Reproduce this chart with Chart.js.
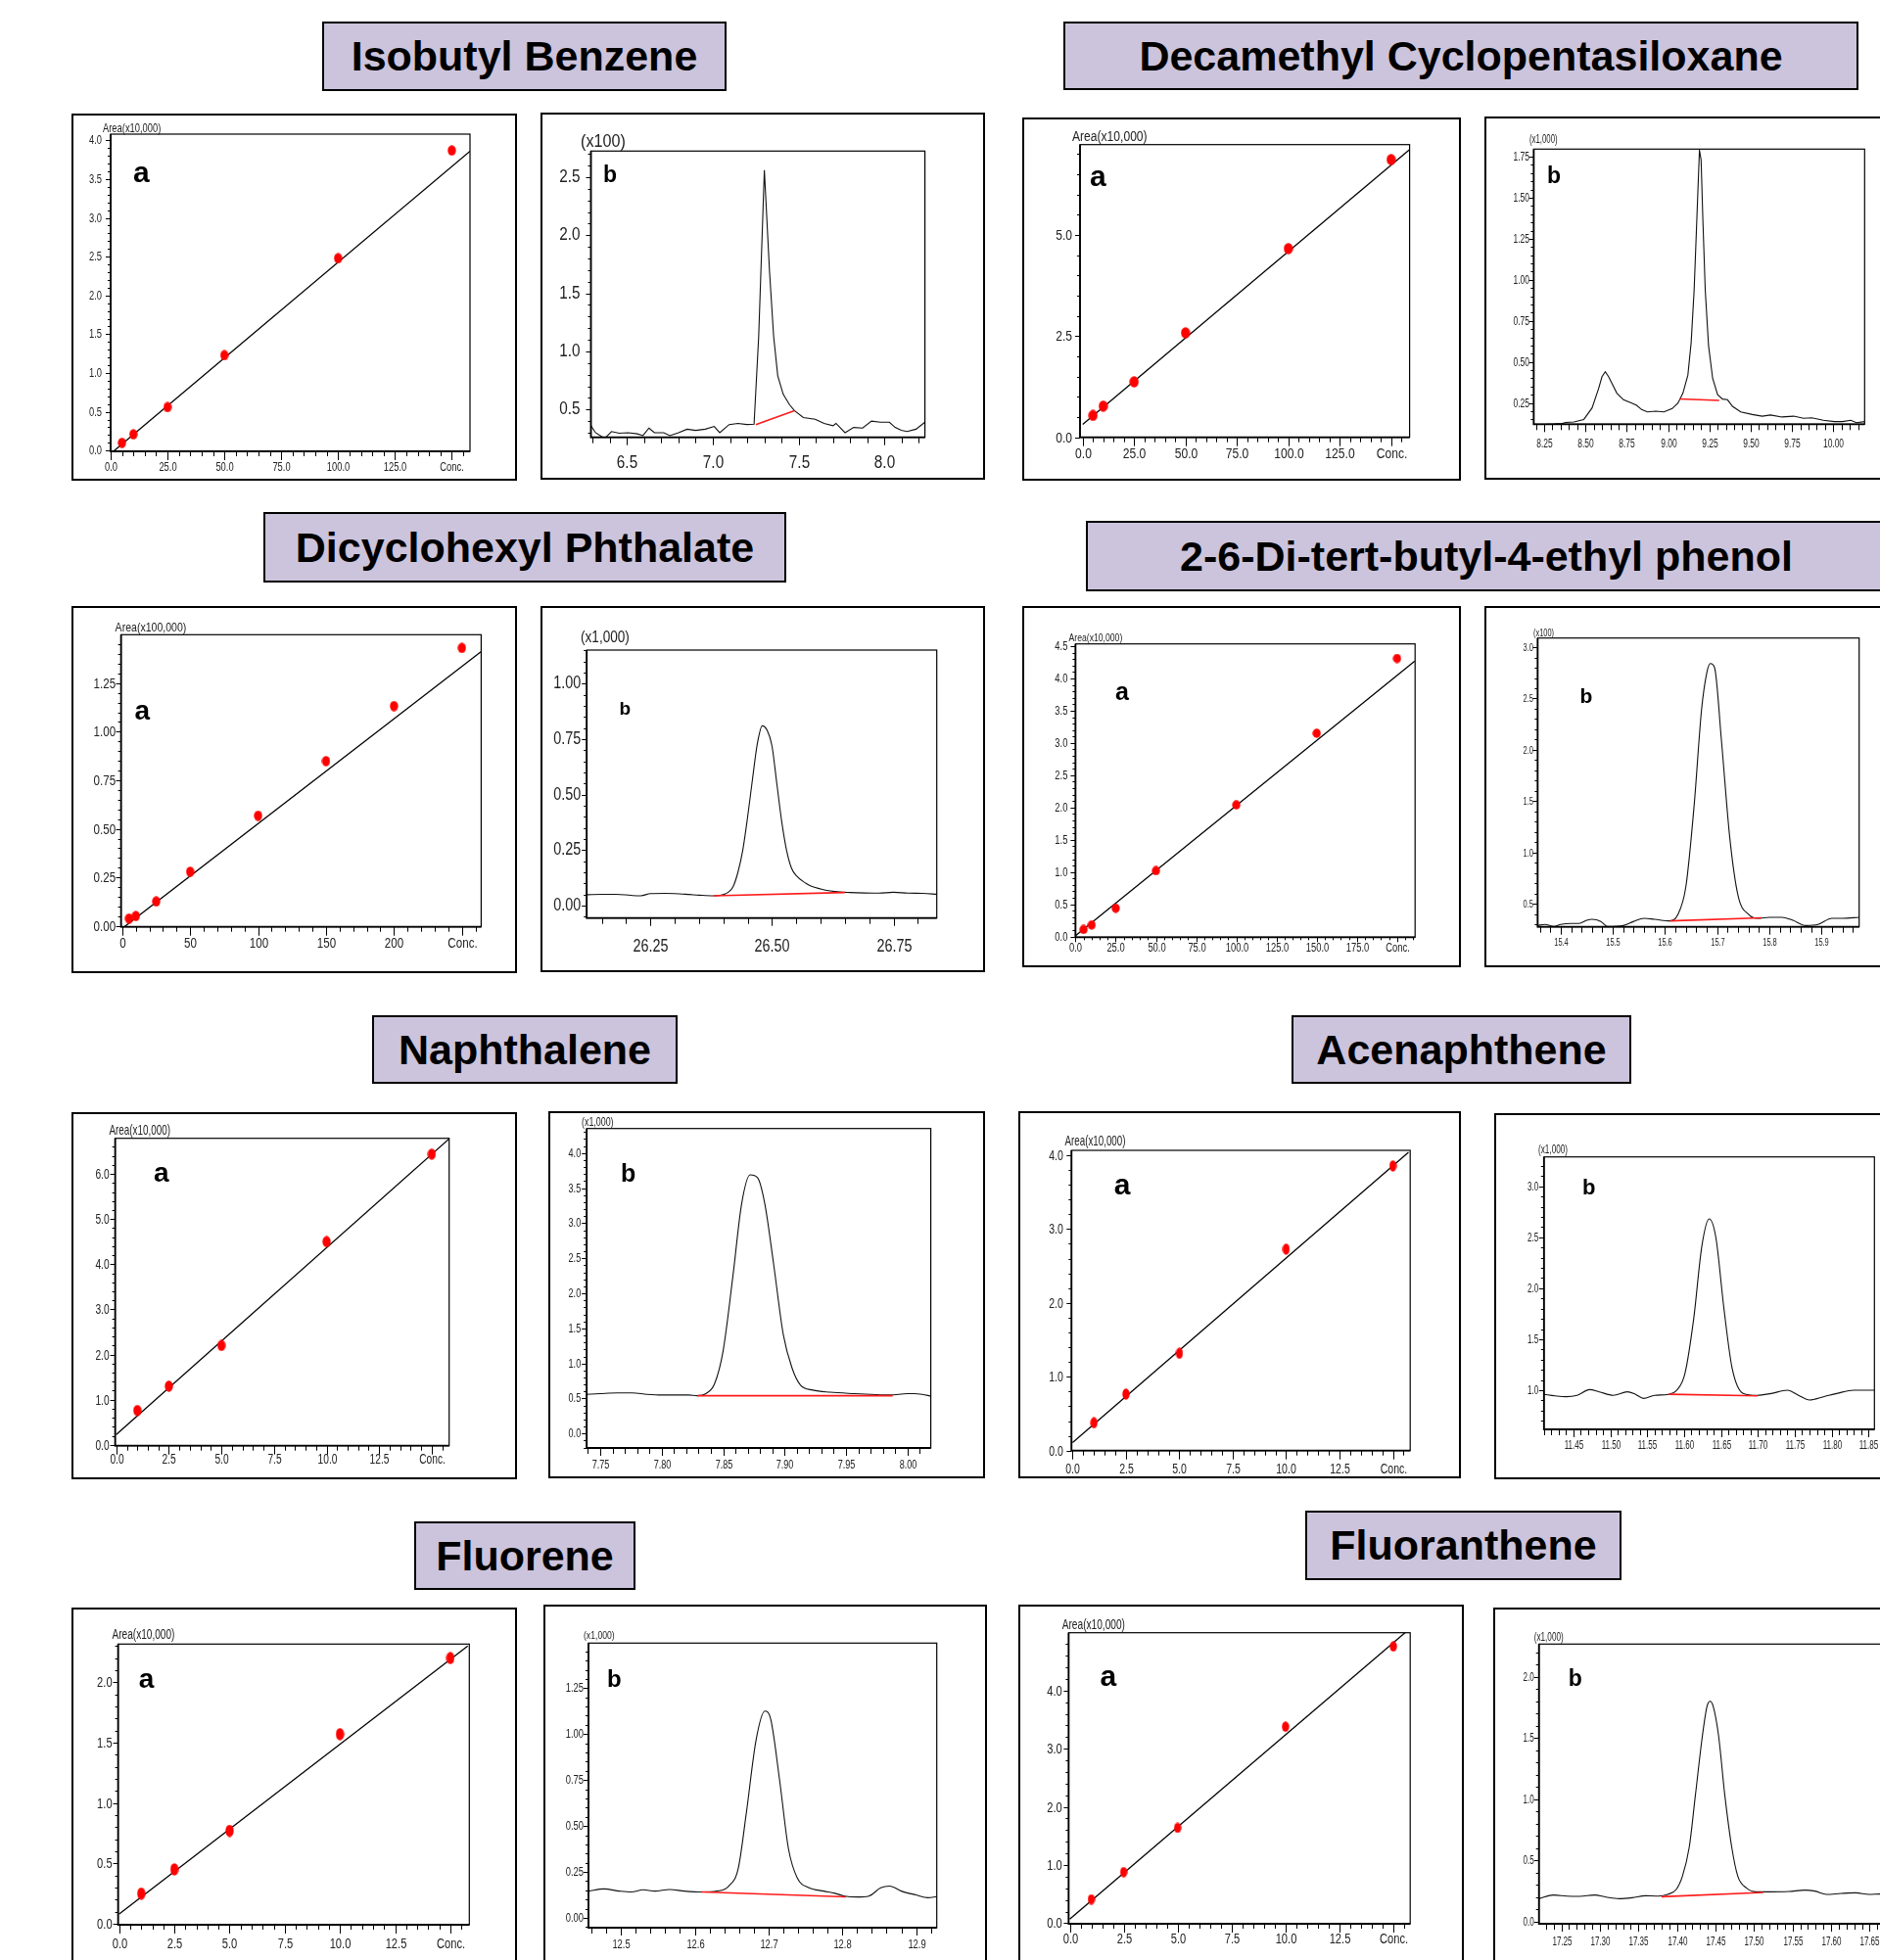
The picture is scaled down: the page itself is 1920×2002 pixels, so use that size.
<!DOCTYPE html>
<html>
<head>
<meta charset="utf-8">
<script src="https://cdn.jsdelivr.net/npm/chart.js@4.4.1/dist/chart.umd.min.js"></script>
<style>
  html, body { margin: 0; padding: 0; background: #fff; }
  #page { position: relative; width: 1920px; height: 2002px; overflow: hidden; background: #fff; }
  .title { position: absolute; box-sizing: border-box; border: 2px solid #000; background: #ccc4dc;
           display: flex; align-items: center; justify-content: center; white-space: nowrap;
           font: bold 43px 'Liberation Sans', Arial, sans-serif; color: #000; }
  .frame { position: absolute; box-sizing: border-box; border: 2px solid #000; background: #fff; }
  .frame canvas { position: absolute; left: 0; top: 0; }
</style>
</head>
<body>
<div id="page"></div>
<script>
// ---- data ----
const compoundNames = ['Isobutyl Benzene', 'Decamethyl Cyclopentasiloxane', 'Dicyclohexyl Phthalate',
  '2-6-Di-tert-butyl-4-ethyl phenol', 'Naphthalene', 'Acenaphthene', 'Fluorene', 'Fluoranthene'];

// Isobutyl Benzene
const ibConc = [5, 10, 25, 50, 100, 150];
const ibArea = [0.10, 0.21, 0.56, 1.23, 2.48, 3.87];
const ibFitConc = [0, 158];
const ibFitArea = [-0.04, 3.86];
const ibTime = [6.29, 6.317, 6.37, 6.41, 6.455, 6.507, 6.56, 6.593, 6.628, 6.66, 6.714, 6.75, 6.80, 6.85, 6.90, 6.956, 7.008, 7.04, 7.095, 7.146, 7.198, 7.24, 7.267, 7.30, 7.33, 7.354, 7.378, 7.41, 7.447, 7.475, 7.527, 7.596, 7.648, 7.70, 7.717, 7.77, 7.82, 7.872, 7.924, 7.976, 8.028, 8.062, 8.097, 8.131, 8.183, 8.235];
const ibSignal = [0.36, 0.30, 0.25, 0.31, 0.295, 0.30, 0.29, 0.275, 0.34, 0.30, 0.30, 0.275, 0.30, 0.33, 0.32, 0.33, 0.354, 0.30, 0.37, 0.38, 0.37, 0.374, 1.13, 2.56, 1.69, 1.13, 0.79, 0.63, 0.54, 0.49, 0.43, 0.416, 0.38, 0.36, 0.38, 0.30, 0.345, 0.34, 0.40, 0.39, 0.39, 0.345, 0.32, 0.31, 0.33, 0.39];
const ibBaseTime = [7.25, 7.475];
const ibBaseSignal = [0.37, 0.49];

// Decamethyl Cyclopentasiloxane
const dmConc = [5, 10, 25, 50, 100, 150];
const dmArea = [0.54, 0.77, 1.37, 2.58, 4.66, 6.86];
const dmFitConc = [0, 159];
const dmFitArea = [0.32, 7.11];
const dmTime = [8.19, 8.25, 8.31, 8.36, 8.38, 8.43, 8.49, 8.54, 8.58, 8.60, 8.62, 8.64, 8.66, 8.69, 8.73, 8.78, 8.81, 8.84, 8.875, 8.925, 8.975, 9.025, 9.06, 9.09, 9.12, 9.14, 9.158, 9.175, 9.19, 9.20, 9.21, 9.225, 9.245, 9.27, 9.30, 9.33, 9.36, 9.39, 9.44, 9.51, 9.57, 9.62, 9.69, 9.76, 9.82, 9.87, 9.94, 10.006, 10.056, 10.106, 10.14, 10.19];
const dmSignal = [0.12, 0.12, 0.122, 0.125, 0.132, 0.135, 0.15, 0.22, 0.34, 0.41, 0.44, 0.41, 0.37, 0.31, 0.27, 0.25, 0.236, 0.21, 0.196, 0.20, 0.196, 0.216, 0.25, 0.31, 0.42, 0.62, 0.94, 1.39, 1.79, 1.73, 1.39, 0.94, 0.60, 0.40, 0.30, 0.274, 0.27, 0.23, 0.196, 0.18, 0.17, 0.177, 0.165, 0.17, 0.157, 0.16, 0.145, 0.137, 0.137, 0.145, 0.13, 0.137];
const dmBaseTime = [9.07, 9.31];
const dmBaseSignal = [0.275, 0.266];

// Dicyclohexyl Phthalate
const dcConc = [5, 10, 25, 50, 100, 150, 200, 250];
const dcArea = [0.039, 0.052, 0.127, 0.28, 0.568, 0.849, 1.132, 1.431];
const dcFitConc = [0, 264];
const dcFitArea = [-0.012, 1.411];
const dcTime = [26.12, 26.15, 26.18, 26.21, 26.23, 26.25, 26.28, 26.30, 26.33, 26.35, 26.38, 26.40, 26.41, 26.42, 26.43, 26.44, 26.45, 26.46, 26.47, 26.48, 26.49, 26.50, 26.51, 26.52, 26.53, 26.54, 26.55, 26.57, 26.58, 26.60, 26.62, 26.64, 26.66, 26.69, 26.72, 26.75, 26.78, 26.81, 26.84];
const dcSignal = [0.049, 0.051, 0.051, 0.046, 0.044, 0.054, 0.055, 0.054, 0.050, 0.047, 0.044, 0.050, 0.060, 0.085, 0.15, 0.25, 0.40, 0.57, 0.73, 0.81, 0.79, 0.72, 0.55, 0.38, 0.25, 0.17, 0.135, 0.10, 0.088, 0.075, 0.066, 0.061, 0.059, 0.057, 0.056, 0.060, 0.056, 0.055, 0.051];
const dcBaseTime = [26.38, 26.65];
const dcBaseSignal = [0.044, 0.059];

// 2-6-Di-tert-butyl-4-ethyl phenol
const tbConc = [5, 10, 25, 50, 100, 150, 200];
const tbArea = [0.11, 0.18, 0.44, 1.02, 2.04, 3.15, 4.31];
const tbFitConc = [0, 211];
const tbFitArea = [0.015, 4.27];
const tbTime = [15.356, 15.37, 15.387, 15.40, 15.42, 15.435, 15.45, 15.46, 15.477, 15.49, 15.52, 15.54, 15.56, 15.58, 15.61, 15.624, 15.64, 15.656, 15.67, 15.68, 15.687, 15.695, 15.708, 15.724, 15.74, 15.761, 15.777, 15.80, 15.824, 15.845, 15.87, 15.893, 15.92, 15.94, 15.972];
const tbSignal = [0.29, 0.30, 0.28, 0.30, 0.31, 0.31, 0.34, 0.35, 0.33, 0.28, 0.29, 0.33, 0.36, 0.35, 0.335, 0.39, 0.67, 1.47, 2.39, 2.75, 2.84, 2.80, 2.10, 1.15, 0.58, 0.395, 0.36, 0.37, 0.37, 0.34, 0.29, 0.30, 0.36, 0.36, 0.37];
const tbBaseTime = [15.61, 15.785];
const tbBaseSignal = [0.335, 0.365];

// Naphthalene
const npConc = [1, 2.5, 5, 10, 15];
const npArea = [0.76, 1.30, 2.20, 4.50, 6.44];
const npFitConc = [0, 15.83];
const npFitArea = [0.23, 6.78];
const npTime = [7.739, 7.75, 7.764, 7.776, 7.788, 7.80, 7.812, 7.822, 7.829, 7.836, 7.843, 7.85, 7.858, 7.865, 7.872, 7.878, 7.884, 7.891, 7.899, 7.906, 7.913, 7.923, 7.937, 7.957, 7.97, 7.986, 8.0, 8.005, 8.012, 8.019];
const npSignal = [0.56, 0.57, 0.58, 0.58, 0.56, 0.55, 0.55, 0.55, 0.54, 0.57, 0.71, 1.18, 2.25, 3.27, 3.69, 3.65, 3.27, 2.43, 1.41, 0.94, 0.69, 0.62, 0.59, 0.57, 0.56, 0.55, 0.57, 0.57, 0.56, 0.535];
const npBaseTime = [7.829, 7.988];
const npBaseSignal = [0.54, 0.54];

// Acenaphthene
const acConc = [1, 2.5, 5, 10, 15];
const acArea = [0.377, 0.765, 1.318, 2.728, 3.855];
const acFitConc = [0, 15.73];
const acFitArea = [0.11, 4.04];
const acTime = [11.41, 11.425, 11.44, 11.455, 11.472, 11.485, 11.504, 11.523, 11.534, 11.545, 11.56, 11.579, 11.59, 11.601, 11.613, 11.624, 11.634, 11.643, 11.654, 11.665, 11.68, 11.699, 11.718, 11.74, 11.755, 11.77, 11.789, 11.807, 11.83, 11.858];
const acSignal = [0.96, 0.945, 0.936, 0.95, 1.006, 0.984, 0.95, 0.984, 0.96, 0.92, 0.95, 0.96, 1.0, 1.16, 1.70, 2.41, 2.68, 2.50, 1.80, 1.22, 0.97, 0.95, 0.968, 1.0, 0.95, 0.904, 0.936, 0.968, 1.0, 1.0];
const acBaseTime = [11.579, 11.70];
const acBaseSignal = [0.96, 0.945];

// Fluorene
const flConc = [1, 2.5, 5, 10, 15];
const flArea = [0.25, 0.45, 0.77, 1.57, 2.20];
const flFitConc = [0, 15.79];
const flFitArea = [0.081, 2.30];
const flTime = [12.456, 12.477, 12.498, 12.514, 12.53, 12.546, 12.566, 12.586, 12.61, 12.63, 12.646, 12.659, 12.67, 12.683, 12.695, 12.703, 12.715, 12.727, 12.739, 12.755, 12.775, 12.79, 12.803, 12.82, 12.836, 12.852, 12.864, 12.88, 12.9, 12.916, 12.928];
const flSignal = [0.146, 0.158, 0.146, 0.141, 0.153, 0.146, 0.155, 0.146, 0.141, 0.146, 0.173, 0.27, 0.573, 0.965, 1.125, 1.08, 0.75, 0.377, 0.217, 0.164, 0.146, 0.134, 0.119, 0.114, 0.119, 0.164, 0.173, 0.146, 0.125, 0.11, 0.116];
const flBaseTime = [12.61, 12.805];
const flBaseSignal = [0.141, 0.115];

// Fluoranthene
const faConc = [1, 2.5, 5, 10, 15];
const faArea = [0.41, 0.88, 1.64, 3.38, 4.76];
const faFitConc = [0, 15.62];
const faFitArea = [0.07, 5.02];
const faTime = [17.221, 17.24, 17.257, 17.274, 17.293, 17.308, 17.325, 17.342, 17.359, 17.376, 17.388, 17.399, 17.407, 17.416, 17.424, 17.433, 17.439, 17.443, 17.447, 17.454, 17.462, 17.471, 17.479, 17.49, 17.503, 17.52, 17.545, 17.566, 17.579, 17.594, 17.613, 17.632, 17.649, 17.664, 17.68, 17.70];
const faSignal = [0.187, 0.217, 0.208, 0.206, 0.217, 0.2, 0.187, 0.195, 0.211, 0.208, 0.222, 0.262, 0.369, 0.61, 1.037, 1.518, 1.759, 1.8, 1.759, 1.518, 1.037, 0.61, 0.369, 0.275, 0.243, 0.243, 0.246, 0.257, 0.249, 0.222, 0.23, 0.235, 0.222, 0.225, 0.22, 0.23];
const faBaseTime = [17.38, 17.512];
const faBaseSignal = [0.203, 0.238];

// ---- layout ----
const FONT = "'Liberation Sans', Arial, sans-serif";
const titleBoxes = [
  [329, 22, 742, 93], [1086, 22, 1898, 92], [269, 523, 803, 595], [1109, 532, 1927, 604],
  [380, 1037, 692, 1107], [1319, 1037, 1666, 1107], [423, 1554, 649, 1624], [1333, 1543, 1656, 1614]
];

const panels = [
  { kind: 'cal', frame: [73, 116, 528, 491], plot: [113, 137, 480, 461],
    x: { min: 0, max: 158, major: 25, minor: 5, dec: 1, conc: 150 },
    y: { min: -0.01, max: 4.08, major: 0.5, minor: 0.1, dec: 1 },
    font: 13, sq: 0.72, xLab: 16, yLab: 9, axisTitle: 'Area(x10,000)', titleAt: [105, 131], titleFont: 13,
    letter: 'a', letterAt: [136, 186], letterFont: 30, dot: [9, 11],
    pts: [ibConc, ibArea], fit: [ibFitConc, ibFitArea] },
  { kind: 'chrom', frame: [552, 115, 1006, 490], plot: [603.5, 154.3, 944.6, 446.7],
    x: { min: 6.29, max: 8.235, major: 0.5, minor: 0.1, dec: 1 },
    y: { min: 0.26, max: 2.725, major: 0.5, minor: 0.1, dec: 1 },
    font: 18, sq: 0.85, xLab: 26, yLab: 11, axisTitle: '(x100)', titleAt: [593, 145], titleFont: 19,
    letter: 'b', letterAt: [616, 186], letterFont: 23, smooth: false,
    trace: [ibTime, ibSignal], base: [ibBaseTime, ibBaseSignal] },

  { kind: 'cal', frame: [1044, 120, 1492, 491], plot: [1103, 147.7, 1439.6, 446.7],
    x: { min: -1.3, max: 159, major: 25, minor: 5, dec: 1, conc: 150 },
    y: { min: 0, max: 7.23, major: 2.5, minor: 0.5, dec: 1 },
    font: 15.5, sq: 0.78, xLab: 17.5, yLab: 8, axisTitle: 'Area(x10,000)', titleAt: [1095, 140], titleFont: 15.5,
    letter: 'a', letterAt: [1113, 190], letterFont: 30, dot: [10, 12],
    pts: [dmConc, dmArea], fit: [dmFitConc, dmFitArea] },
  { kind: 'chrom', frame: [1516, 119, 1940, 490], plot: [1566.4, 152.3, 1904.3, 433.3],
    x: { min: 8.187, max: 10.19, major: 0.25, minor: 0.05, dec: 2 },
    y: { min: 0.121, max: 1.796, major: 0.25, minor: 0.05, dec: 2 },
    font: 13, sq: 0.65, xLab: 20.5, yLab: 4.5, axisTitle: '(x1,000)', titleAt: [1562, 143], titleFont: 12,
    letter: 'b', letterAt: [1580, 187], letterFont: 23, smooth: false,
    trace: [dmTime, dmSignal], base: [dmBaseTime, dmBaseSignal] },

  { kind: 'cal', frame: [73, 619, 528, 994], plot: [123.6, 648.3, 491.4, 946.7],
    x: { min: -0.9, max: 264.2, major: 50, minor: 10, dec: 0, conc: 250 },
    y: { min: -0.004, max: 1.499, major: 0.25, minor: 0.05, dec: 2 },
    font: 14.5, sq: 0.8, xLab: 17, yLab: 5.5, axisTitle: 'Area(x100,000)', titleAt: [117.6, 641], titleFont: 13.2,
    letter: 'a', letterAt: [137.6, 735], letterFont: 28, dot: [9, 11],
    pts: [dcConc, dcArea], fit: [dcFitConc, dcFitArea] },
  { kind: 'chrom', frame: [552, 619, 1006, 993], plot: [599.2, 664, 956.7, 937.7],
    x: { min: 26.119, max: 26.839, major: 0.25, minor: 0.05, dec: 2 },
    y: { min: -0.056, max: 1.151, major: 0.25, minor: 0.05, dec: 2 },
    font: 18, sq: 0.8, xLab: 29, yLab: 6, axisTitle: '(x1,000)', titleAt: [593, 651.7], titleFont: 17,
    letter: 'b', letterAt: [632.5, 730], letterFont: 19, smooth: true,
    trace: [dcTime, dcSignal], base: [dcBaseTime, dcBaseSignal] },

  { kind: 'cal', frame: [1044, 619, 1492, 988], plot: [1098.4, 657.7, 1445.2, 957.3],
    x: { min: 0, max: 211.2, major: 25, minor: 5, dec: 1, conc: 200 },
    y: { min: -0.01, max: 4.535, major: 0.5, minor: 0.1, dec: 1 },
    font: 12.5, sq: 0.75, xLab: 11, yLab: 8, axisTitle: 'Area(x10,000)', titleAt: [1091.6, 652.3], titleFont: 11.5,
    letter: 'a', letterAt: [1139, 715], letterFont: 25, dot: [9, 10], xTick: [5, 3],
    pts: [tbConc, tbArea], fit: [tbFitConc, tbFitArea] },
  { kind: 'chrom', frame: [1516, 619, 1940, 988], plot: [1570.4, 651.7, 1898.7, 946.7],
    x: { min: 15.356, max: 15.972, major: 0.1, minor: 0.02, dec: 1 },
    y: { min: 0.277, max: 3.089, major: 0.5, minor: 0.1, dec: 1 },
    font: 11.5, sq: 0.65, xLab: 16, yLab: 4.5, axisTitle: '(x100)', titleAt: [1566, 646.7], titleFont: 11.4,
    letter: 'b', letterAt: [1613.6, 718], letterFont: 21, smooth: true,
    trace: [tbTime, tbSignal], base: [tbBaseTime, tbBaseSignal] },

  { kind: 'cal', frame: [73, 1136, 528, 1511], plot: [117.6, 1162.7, 458.7, 1476.7],
    x: { min: -0.056, max: 15.83, major: 2.5, minor: 0.5, dec: 1, conc: 15 },
    y: { min: -0.02, max: 6.79, major: 1, minor: 0.2, dec: 1 },
    font: 15, sq: 0.68, xLab: 14, yLab: 6, axisTitle: 'Area(x10,000)', titleAt: [111.5, 1155], titleFont: 14.5,
    letter: 'a', letterAt: [157, 1207], letterFont: 28, dot: [9, 12],
    pts: [npConc, npArea], fit: [npFitConc, npFitArea] },
  { kind: 'chrom', frame: [560, 1135, 1006, 1510], plot: [599.2, 1152.7, 950.6, 1479],
    x: { min: 7.739, max: 8.019, major: 0.05, minor: 0.01, dec: 2 },
    y: { min: -0.205, max: 4.35, major: 0.5, minor: 0.1, dec: 1 },
    font: 13, sq: 0.7, xLab: 17.7, yLab: 6, axisTitle: '(x1,000)', titleAt: [594, 1146], titleFont: 12.7,
    letter: 'b', letterAt: [634, 1207], letterFont: 25, smooth: true,
    trace: [npTime, npSignal], base: [npBaseTime, npBaseSignal] },

  { kind: 'cal', frame: [1040, 1135, 1492, 1510], plot: [1094.3, 1175, 1440.2, 1481.7],
    x: { min: -0.05, max: 15.81, major: 2.5, minor: 0.5, dec: 1, conc: 15 },
    y: { min: 0, max: 4.066, major: 1, minor: 0.2, dec: 1 },
    font: 15.5, sq: 0.68, xLab: 19, yLab: 8.5, axisTitle: 'Area(x10,000)', titleAt: [1087.5, 1166], titleFont: 14.4,
    letter: 'a', letterAt: [1137.7, 1220], letterFont: 30, dot: [8, 12],
    pts: [acConc, acArea], fit: [acFitConc, acFitArea] },
  { kind: 'chrom', frame: [1526, 1137, 1940, 1511], plot: [1576.8, 1181.7, 1914.3, 1460],
    x: { min: 11.41, max: 11.858, major: 0.05, minor: 0.01, dec: 2 },
    y: { min: 0.616, max: 3.288, major: 0.5, minor: 0.1, dec: 1 },
    font: 13, sq: 0.62, xLab: 16.7, yLab: 5.6, axisTitle: '(x1,000)', titleAt: [1571, 1174.3], titleFont: 13.2,
    letter: 'b', letterAt: [1616, 1220], letterFont: 22, smooth: true,
    trace: [acTime, acSignal], base: [acBaseTime, acBaseSignal] },

  { kind: 'cal', frame: [73, 1642, 528, 2030], plot: [120.6, 1679.3, 479.3, 1966],
    x: { min: -0.05, max: 15.86, major: 2.5, minor: 0.5, dec: 1, conc: 15 },
    y: { min: -0.008, max: 2.316, major: 0.5, minor: 0.1, dec: 1 },
    font: 15.5, sq: 0.72, xLab: 20, yLab: 6, axisTitle: 'Area(x10,000)', titleAt: [114.5, 1670], titleFont: 14,
    letter: 'a', letterAt: [141.8, 1724], letterFont: 28, dot: [9, 13],
    pts: [flConc, flArea], fit: [flFitConc, flFitArea] },
  { kind: 'chrom', frame: [555, 1639, 1008, 2030], plot: [601, 1678.3, 956.7, 1969],
    x: { min: 12.456, max: 12.928, major: 0.1, minor: 0.02, dec: 1 },
    y: { min: -0.053, max: 1.495, major: 0.25, minor: 0.05, dec: 2 },
    font: 12.5, sq: 0.75, xLab: 18, yLab: 5, axisTitle: '(x1,000)', titleAt: [596, 1671], titleFont: 11.5,
    letter: 'b', letterAt: [620, 1723], letterFont: 24, smooth: true,
    trace: [flTime, flSignal], base: [flBaseTime, flBaseSignal] },

  { kind: 'cal', frame: [1040, 1639, 1495, 2030], plot: [1091.4, 1667.7, 1440.2, 1965],
    x: { min: -0.05, max: 15.78, major: 2.5, minor: 0.5, dec: 1, conc: 15 },
    y: { min: -0.01, max: 4.995, major: 1, minor: 0.2, dec: 1 },
    font: 15.5, sq: 0.72, xLab: 16, yLab: 6.7, axisTitle: 'Area(x10,000)', titleAt: [1084.7, 1660], titleFont: 14.1,
    letter: 'a', letterAt: [1123.6, 1721.7], letterFont: 30, dot: [8, 11],
    pts: [faConc, faArea], fit: [faFitConc, faFitArea] },
  { kind: 'chrom', frame: [1525, 1642, 1970, 2030], plot: [1571.7, 1679.3, 1952, 1965],
    x: { min: 17.221, max: 17.704, major: 0.05, minor: 0.01, dec: 2 },
    y: { min: -0.018, max: 2.268, major: 0.5, minor: 0.1, dec: 1 },
    font: 13, sq: 0.62, xLab: 18.3, yLab: 5, axisTitle: '(x1,000)', titleAt: [1566.7, 1672.7], titleFont: 13.2,
    letter: 'b', letterAt: [1601.7, 1721.7], letterFont: 23, smooth: true,
    trace: [faTime, faSignal], base: [faBaseTime, faBaseSignal] }
];

// ---- helpers ----
const toXY = (xs, ys) => xs.map((v, i) => ({ x: v, y: ys[i] }));

function tickValues(min, max, step) {
  const out = [];
  const k0 = Math.ceil(min / step - 1e-6), k1 = Math.floor(max / step + 1e-6);
  for (let k = k0; k <= k1; k++) out.push(+(k * step).toFixed(6));
  return out;
}
const isMajor = (v, major) => Math.abs(v / major - Math.round(v / major)) < 1e-6;

function squeezedText(ctx, txt, x, y, align, sq) {
  ctx.save();
  ctx.translate(x, y);
  ctx.scale(sq, 1);
  ctx.textAlign = align;
  ctx.fillText(txt, 0, 0);
  ctx.restore();
}

function dotImage(w, h) {
  const c = document.createElement('canvas');
  c.width = w; c.height = h;
  const g = c.getContext('2d');
  g.fillStyle = '#ff0000';
  g.beginPath();
  g.ellipse(w / 2, h / 2, w / 2 - 0.3, h / 2 - 0.3, 0, 0, Math.PI * 2);
  g.fill();
  return c;
}

// draws the boxed plot area, major/minor ticks, condensed tick labels and panel letters
function axesPlugin(p, ox, oy) {
  const xTick = p.xTick || (p.kind === 'cal' ? [9, 5] : [8, 6]);
  const yTick = [5, 3];
  return {
    id: 'boxAxes',
    afterDraw(chart) {
      const { ctx, chartArea: a, scales } = chart;
      const xs = scales.x, ys = scales.y;
      ctx.save();
      ctx.strokeStyle = '#000';
      ctx.lineWidth = 1.2;
      ctx.strokeRect(a.left, a.top, a.right - a.left, a.bottom - a.top);
      ctx.lineWidth = 1.8;
      ctx.beginPath();
      ctx.moveTo(a.left, a.top); ctx.lineTo(a.left, a.bottom); ctx.lineTo(a.right, a.bottom);
      ctx.stroke();

      ctx.lineWidth = 1;
      ctx.fillStyle = '#222';
      ctx.font = `${p.font}px ${FONT}`;
      ctx.textBaseline = 'middle';

      tickValues(p.x.min, p.x.max, p.x.minor).forEach(v => {
        const px = Math.round(xs.getPixelForValue(v)) + 0.5;
        const maj = isMajor(v, p.x.major);
        ctx.beginPath();
        ctx.moveTo(px, a.bottom);
        ctx.lineTo(px, a.bottom + (maj ? xTick[0] : xTick[1]));
        ctx.stroke();
        if (maj) {
          const txt = (p.x.conc !== undefined && Math.abs(v - p.x.conc) < 1e-6) ? 'Conc.' : v.toFixed(p.x.dec);
          squeezedText(ctx, txt, px, a.bottom + p.xLab, 'center', p.sq);
        }
      });

      tickValues(p.y.min, p.y.max, p.y.minor).forEach(v => {
        const py = Math.round(ys.getPixelForValue(v)) + 0.5;
        const maj = isMajor(v, p.y.major);
        ctx.beginPath();
        ctx.moveTo(a.left, py);
        ctx.lineTo(a.left - (maj ? yTick[0] : yTick[1]), py);
        ctx.stroke();
        if (maj) squeezedText(ctx, v.toFixed(p.y.dec), a.left - p.yLab, py, 'right', p.sq);
      });

      ctx.font = `${p.titleFont}px ${FONT}`;
      squeezedText(ctx, p.axisTitle, p.titleAt[0] - ox, p.titleAt[1] - oy, 'left', p.sq);

      ctx.fillStyle = '#000';
      ctx.textBaseline = 'alphabetic';
      ctx.font = `bold ${p.letterFont}px ${FONT}`;
      ctx.textAlign = 'left';
      ctx.fillText(p.letter, p.letterAt[0] - ox, p.letterAt[1] - oy);
      ctx.restore();
    }
  };
}

// ---- build page ----
const page = document.getElementById('page');

titleBoxes.forEach(([x0, y0, x1, y1], i) => {
  const d = document.createElement('div');
  d.className = 'title';
  d.textContent = compoundNames[i];
  Object.assign(d.style, { left: x0 + 'px', top: y0 + 'px', width: (x1 - x0) + 'px', height: (y1 - y0) + 'px' });
  page.appendChild(d);
});

panels.forEach(p => {
  const [fx0, fy0, fx1, fy1] = p.frame;
  const frame = document.createElement('div');
  frame.className = 'frame';
  Object.assign(frame.style, { left: fx0 + 'px', top: fy0 + 'px', width: (fx1 - fx0) + 'px', height: (fy1 - fy0) + 'px' });
  const canvas = document.createElement('canvas');
  const cw = fx1 - fx0 - 4, ch = fy1 - fy0 - 4;
  canvas.width = cw;
  canvas.height = ch;
  frame.appendChild(canvas);
  page.appendChild(frame);

  const ox = fx0 + 2, oy = fy0 + 2;
  const [px0, py0, px1, py1] = p.plot;
  const padding = { left: px0 - ox, top: py0 - oy, right: ox + cw - px1, bottom: oy + ch - py1 };

  let datasets;
  if (p.kind === 'cal') {
    datasets = [
      { data: toXY(p.pts[0], p.pts[1]), pointStyle: dotImage(p.dot[0], p.dot[1]), pointRadius: 5, showLine: false, order: 0 },
      { data: toXY(p.fit[0], p.fit[1]), showLine: true, borderColor: '#000', borderWidth: 1.3, pointRadius: 0, order: 1 }
    ];
  } else {
    datasets = [
      { data: toXY(p.base[0], p.base[1]), showLine: true, borderColor: '#ff1a1a', borderWidth: 1.6, pointRadius: 0, order: 0 },
      { data: toXY(p.trace[0], p.trace[1]), showLine: true, borderColor: '#111', borderWidth: 1.1, pointRadius: 0,
        tension: p.smooth ? 0.4 : 0, cubicInterpolationMode: p.smooth ? 'monotone' : 'default', order: 1 }
    ];
  }

  new Chart(canvas, {
    type: 'scatter',
    data: { datasets },
    options: {
      responsive: false,
      animation: false,
      devicePixelRatio: 1,
      events: [],
      layout: { padding },
      plugins: { legend: { display: false }, tooltip: { enabled: false } },
      scales: {
        x: { type: 'linear', display: false, min: p.x.min, max: p.x.max },
        y: { type: 'linear', display: false, min: p.y.min, max: p.y.max }
      }
    },
    plugins: [axesPlugin(p, ox, oy)]
  });
});
</script>
</body>
</html>
